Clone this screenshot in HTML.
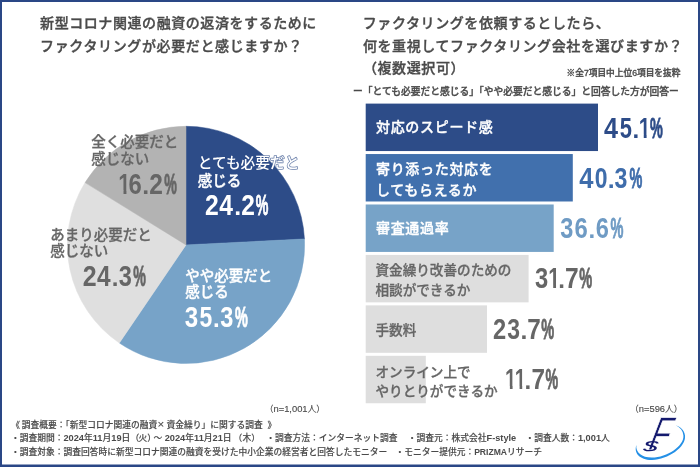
<!DOCTYPE html>
<html lang="ja"><head><meta charset="utf-8"><title>調査結果</title>
<style>
html,body{margin:0;padding:0;background:#fff}
svg{display:block}
text{font-family:"Liberation Sans","Noto Sans CJK JP",sans-serif;text-spacing-trim:space-all}
.dk{stroke:#4a4a4a;stroke-width:.35px}.gk{stroke:#666;stroke-width:.28px}.wk{stroke:#fff;stroke-width:.35px}.fk{stroke:#4a4a4a;stroke-width:.13px}
</style></head><body>
<svg width="700" height="467" viewBox="0 0 700 467">
<defs><clipPath id="c1"><path d="M0 -23H10.95V.4H6.85V-3.1H0Z"/></clipPath></defs>
<rect x="0" y="0" width="700" height="467" fill="#2a4786"/>
<rect x="2" y="2" width="696" height="462.5" fill="#fff"/>

<text x="40.1" y="28.2" font-size="14.0" fill="#4a4a4a" font-weight="500" class="dk" letter-spacing=".57">新型コロナ関連の融資の返済をするために</text>
<text x="40.1" y="51.1" font-size="14.0" fill="#4a4a4a" font-weight="500" class="dk" letter-spacing=".63">ファクタリングが必要だと感じますか？</text>
<text x="362.7" y="28.2" font-size="14.0" fill="#4a4a4a" font-weight="500" class="dk" letter-spacing=".6">ファクタリングを依頼するとしたら、</text>
<text x="362.9" y="51.1" font-size="14.0" fill="#4a4a4a" font-weight="500" class="dk" letter-spacing=".6">何を重視してファクタリング会社を選びますか？</text>
<text x="362.9" y="73.3" font-size="14.0" fill="#4a4a4a" font-weight="500" class="dk" letter-spacing=".6">（複数選択可）</text>
<text x="566.5" y="76.3" font-size="8.7" fill="#4a4a4a" font-weight="500" class="dk">※全7項目中上位6項目を抜粋</text>
<text class="dk" x="353.1" y="95.3" font-size="9.75" fill="#4a4a4a" font-weight="500">ー「とても必要だと感じる」<tspan x="473.9">「やや必要だと感じる」と回答した方が回答ー</tspan></text>
<path d="M186.0 244.9L186.00 126.30A118.6 118.6 0 0 1 304.45 238.94Z" fill="#2d4c88" stroke="#2d4c88" stroke-width=".5" stroke-linejoin="round"/>
<path d="M186.0 244.9L304.45 238.94A118.6 118.6 0 0 1 119.34 342.99Z" fill="#77a3c8" stroke="#77a3c8" stroke-width=".5" stroke-linejoin="round"/>
<path d="M186.0 244.9L119.34 342.99A118.6 118.6 0 0 1 85.07 182.61Z" fill="#dfdfdf" stroke="#dfdfdf" stroke-width=".5" stroke-linejoin="round"/>
<path d="M186.0 244.9L85.07 182.61A118.6 118.6 0 0 1 186.00 126.30Z" fill="#b3b3b3" stroke="#b3b3b3" stroke-width=".5" stroke-linejoin="round"/>
<g font-size="14.5" font-weight="500">
<text x="197.7" y="167.6" font-size="14.7" fill="#fff" stroke="#2d4c88" stroke-opacity=".7" stroke-width="1.6" paint-order="stroke" stroke-linejoin="round">とても必要だと</text>
<text class="wk" x="197.7" y="186" fill="#fff">感じる</text>
<text class="wk" x="185.2" y="281.4" fill="#fff">やや必要だと</text>
<text class="wk" x="185.2" y="296.7" fill="#fff">感じる</text>
<text class="gk" x="50.3" y="240.3" fill="#666666">あまり必要だと</text>
<text class="gk" x="50.3" y="256.3" fill="#666666">感じない</text>
<text class="gk" x="91.3" y="147.3" fill="#666666">全く必要だと</text>
<text class="gk" x="91.3" y="163.7" fill="#666666">感じない</text>
</g>
<rect x="365.7" y="103.60" width="232.3" height="47.45" fill="#2d4c88"/>
<rect x="365.7" y="154.04" width="207.1" height="47.45" fill="#4170ad"/>
<rect x="365.7" y="204.48" width="188.0" height="47.45" fill="#77a3c8"/>
<rect x="365.7" y="254.92" width="162.9" height="47.45" fill="#dedede"/>
<rect x="365.7" y="305.36" width="121.3" height="47.45" fill="#dedede"/>
<rect x="365.7" y="355.80" width="60.1" height="47.45" fill="#dedede"/>
<g class="wk" font-size="14.0" font-weight="500" fill="#fff" letter-spacing=".68">
<text x="376" y="132.3">対応のスピード感</text>
<text x="376" y="174.1">寄り添った対応を</text>
<text x="376" y="194.8">してもらえるか</text>
<text x="376" y="233.4">審査通過率</text>
</g>
<g class="gk" font-size="13.6" font-weight="500" fill="#666666">
<text x="375.5" y="275.2">資金繰り改善のための</text>
<text x="375.5" y="295">相談ができるか</text>
<text x="375.5" y="334.7">手数料</text>
<text x="375.5" y="377">オンライン上で</text>
<text x="375.5" y="396.3">やりとりができるか</text>
</g>
<g font-size="29.4" font-weight="700" fill="#2d4c88"><title>45.1%</title><text transform="translate(604.02,137.8) scale(0.857,1)">4</text><text transform="translate(619.72,137.8) scale(0.746,1)">5</text><text transform="translate(632.46,137.8) scale(0.820,0.8)">.</text><text transform="translate(638.75,137.8) scale(0.731,1)" clip-path="url(#c1)">1</text><text transform="translate(649.89,137.8) scale(0.491,1)" stroke="#2d4c88" stroke-width=".7" vector-effect="non-scaling-stroke">%</text></g>
<g font-size="29.4" font-weight="700" fill="#3f6dab"><title>40.3%</title><text transform="translate(579.32,188) scale(0.869,1)">4</text><text transform="translate(594.78,188) scale(0.781,1)">0</text><text transform="translate(607.71,188) scale(0.844,0.8)">.</text><text transform="translate(614.57,188) scale(0.787,1)">3</text><text transform="translate(629.39,188) scale(0.491,1)" stroke="#3f6dab" stroke-width=".7" vector-effect="non-scaling-stroke">%</text></g>
<g font-size="29.4" font-weight="700" fill="#6f9bc4"><title>36.6%</title><text transform="translate(560.36,237.8) scale(0.801,1)">3</text><text transform="translate(574.52,237.8) scale(0.810,1)">6</text><text transform="translate(588.46,237.8) scale(0.820,0.8)">.</text><text transform="translate(595.73,237.8) scale(0.803,1)">6</text><text transform="translate(610.49,237.8) scale(0.495,1)" stroke="#6f9bc4" stroke-width=".7" vector-effect="non-scaling-stroke">%</text></g>
<g font-size="29.4" font-weight="700" fill="#666666"><title>31.7%</title><text transform="translate(534.95,288) scale(0.808,1)">3</text><text transform="translate(548.27,288) scale(0.720,1)" clip-path="url(#c1)">1</text><text transform="translate(558.26,288) scale(0.820,0.8)">.</text><text transform="translate(565.05,288) scale(0.834,1)">7</text><text transform="translate(579.29,288) scale(0.495,1)" stroke="#666666" stroke-width=".7" vector-effect="non-scaling-stroke">%</text></g>
<g font-size="29.4" font-weight="700" fill="#666666"><title>23.7%</title><text transform="translate(493.07,338.6) scale(0.806,1)">2</text><text transform="translate(507.37,338.6) scale(0.780,1)">3</text><text transform="translate(520.41,338.6) scale(0.844,0.8)">.</text><text transform="translate(527.15,338.6) scale(0.827,1)">7</text><text transform="translate(541.19,338.6) scale(0.495,1)" stroke="#666666" stroke-width=".7" vector-effect="non-scaling-stroke">%</text></g>
<g font-size="29.4" font-weight="700" fill="#666666"><title>11.7%</title><text transform="translate(505.11,389.1) scale(0.698,1)" clip-path="url(#c1)">1</text><text transform="translate(514.81,389.1) scale(0.698,1)" clip-path="url(#c1)">1</text><text transform="translate(524.46,389.1) scale(0.820,0.8)">.</text><text transform="translate(531.45,389.1) scale(0.827,1)">7</text><text transform="translate(545.59,389.1) scale(0.483,1)" stroke="#666666" stroke-width=".7" vector-effect="non-scaling-stroke">%</text></g>
<g font-size="29.4" font-weight="700" fill="#fff"><title>24.2%</title><text transform="translate(204.93,214.9) scale(0.842,1)">2</text><text transform="translate(219.33,214.9) scale(0.838,1)">4</text><text transform="translate(234.21,214.9) scale(0.844,0.8)">.</text><text transform="translate(241.14,214.9) scale(0.834,1)">2</text><text transform="translate(255.69,214.9) scale(0.483,1)" stroke="#fff" stroke-width=".7" vector-effect="non-scaling-stroke">%</text></g>
<g font-size="29.4" font-weight="700" fill="#fff"><title>35.3%</title><text transform="translate(184.84,326.5) scale(0.821,1)">3</text><text transform="translate(199.59,326.5) scale(0.780,1)">5</text><text transform="translate(212.96,326.5) scale(0.820,0.8)">.</text><text transform="translate(220.36,326.5) scale(0.801,1)">3</text><text transform="translate(235.09,326.5) scale(0.491,1)" stroke="#fff" stroke-width=".7" vector-effect="non-scaling-stroke">%</text></g>
<g font-size="29.4" font-weight="700" fill="#666666"><title>24.3%</title><text transform="translate(82.73,286.3) scale(0.849,1)">2</text><text transform="translate(96.93,286.3) scale(0.831,1)">4</text><text transform="translate(111.66,286.3) scale(0.820,0.8)">.</text><text transform="translate(118.76,286.3) scale(0.801,1)">3</text><text transform="translate(133.29,286.3) scale(0.483,1)" stroke="#666666" stroke-width=".7" vector-effect="non-scaling-stroke">%</text></g>
<g font-size="29.4" font-weight="700" fill="#666666"><title>16.2%</title><text transform="translate(118.28,193.5) scale(0.764,1)" clip-path="url(#c1)">1</text><text transform="translate(128.52,193.5) scale(0.810,1)">6</text><text transform="translate(142.21,193.5) scale(0.844,0.8)">.</text><text transform="translate(149.34,193.5) scale(0.834,1)">2</text><text transform="translate(164.29,193.5) scale(0.483,1)" stroke="#666666" stroke-width=".7" vector-effect="non-scaling-stroke">%</text></g>
<text x="264.7" y="412.4" font-size="8.75" fill="#4a4a4a" font-weight="400" class="fk">（<tspan font-size="9.4">n=1,001</tspan>人）</text>
<text x="630" y="412.2" font-size="8.75" fill="#4a4a4a" font-weight="400" class="fk">（<tspan font-size="9.4">n=596</tspan>人）</text>
<g class="fk" font-size="8.75" font-weight="500" fill="#4a4a4a">
<text x="11.2" y="427.5">《<tspan x="21.7">調査概要：</tspan><tspan x="61">「新型コロナ関連の融資</tspan><tspan x="157.6" dy=".6" font-size="11.5">×</tspan><tspan x="166.6" dy="-.6">資金繰り」に関する調査</tspan><tspan x="267.5">》</tspan></text>
<text x="10.9" y="440.7">・調査期間：<tspan font-size="9.25" font-weight="700" stroke="none">2024</tspan>年<tspan font-size="9.25" font-weight="700" stroke="none">11</tspan>月<tspan font-size="9.25" font-weight="700" stroke="none">19</tspan>日<tspan x="130.6">（</tspan><tspan x="138.6">火）</tspan><tspan x="153.5">～ </tspan><tspan font-size="9.25" font-weight="700" stroke="none">2024</tspan>年<tspan font-size="9.25" font-weight="700" stroke="none">11</tspan>月<tspan font-size="9.25" font-weight="700" stroke="none">21</tspan>日<tspan x="233.5">（</tspan><tspan x="242.6">木）</tspan></text>
<text x="266.3" y="440.7">・調査方法：インターネット調査</text>
<text x="407.8" y="440.7">・調査元：株式会社<tspan font-size="9.2" font-weight="700" stroke="none">F-style</tspan></text>
<text x="525.4" y="440.7">・調査人数：<tspan font-size="9.25" font-weight="700" stroke="none">1,001</tspan>人</text>
<text x="10.9" y="454.8">・調査対象：調査回答時に新型コロナ関連の融資を受けた中小企業の経営者と回答したモニター</text>
<text x="395.4" y="454.8">・モニター提供元：<tspan font-size="8.6" font-weight="700" stroke="none">PRIZMA</tspan>リサーチ</text>
</g>
<g>
<text transform="translate(645.8,450.4) skewX(-21) scale(.68,1)" font-size="47.6" font-weight="400" fill="#141a6e" stroke="#fff" stroke-width=".8" vector-effect="non-scaling-stroke">F</text>
<text transform="translate(642.4,451) skewX(-8) scale(1.7,1)" font-size="18.5" font-style="italic" font-weight="400" fill="#141a6e">s</text>
<path d="M636.4 445C633.5 453 640 460.2 652 460C668 459.6 686.5 447 685 435.5C684.3 430 680.5 427 675.8 425.3C680.5 427.6 683 431 683.4 435.5C684.3 446 667 457.4 652 457.6C642 457.7 635.3 452.5 636.4 445Z" fill="#2590e6"/>
</g>
</svg></body></html>
